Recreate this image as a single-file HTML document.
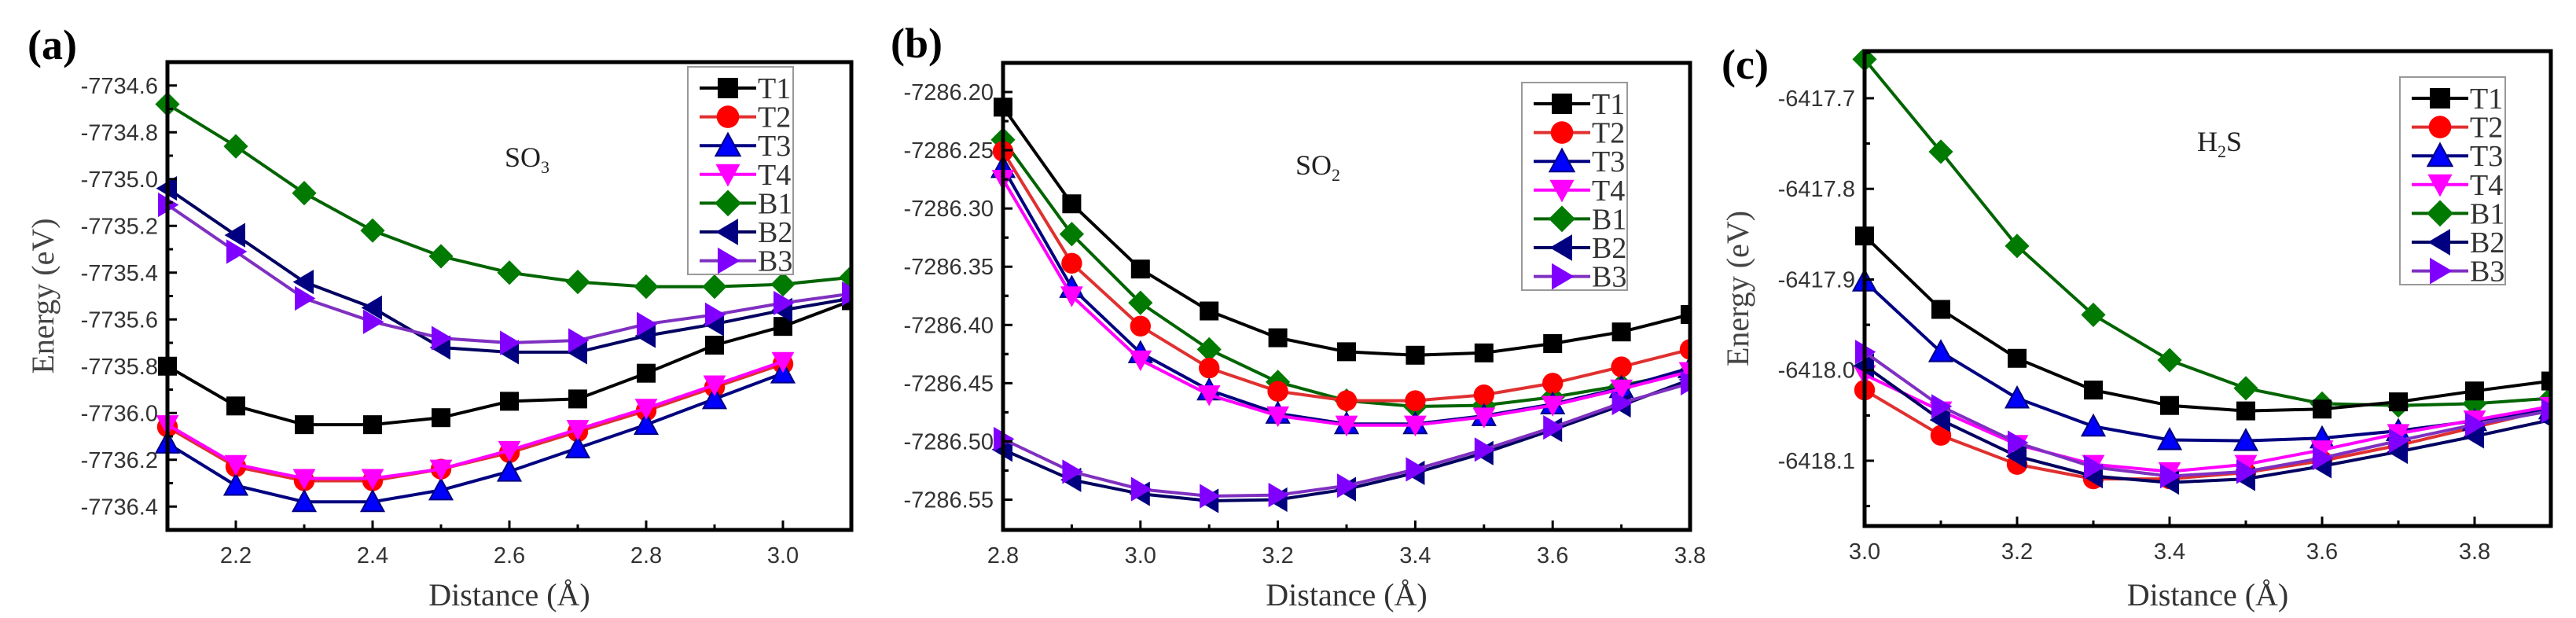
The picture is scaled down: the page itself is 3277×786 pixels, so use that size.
<!DOCTYPE html>
<html><head><meta charset="utf-8"><style>
html,body{margin:0;padding:0;background:#fff;}
svg{display:block;}
</style></head><body>
<svg id="fig" width="3277" height="786" viewBox="0 0 3277 786" xmlns="http://www.w3.org/2000/svg"></svg>
<script>
const seriesNames = ["T1","T2","T3","T4","B1","B2","B3"];
const fillColors = ["#000000","#ff0000","#0000ff","#ff00ff","#007a00","#000080","#8000ff"];
const lineColors = ["#000000","#e03030","#000080","#ff00ff","#006400","#000060","#7f30c0"];

const xA = [2.1,2.2,2.3,2.4,2.5,2.6,2.7,2.8,2.9,3.0,3.1];
const aT1 = [-7735.80,-7735.97,-7736.05,-7736.05,-7736.02,-7735.95,-7735.94,-7735.83,-7735.71,-7735.63,-7735.52];
const aT2 = [-7736.06,-7736.23,-7736.29,-7736.29,-7736.24,-7736.17,-7736.08,-7735.99,-7735.89,-7735.79];
const aT3 = [-7736.13,-7736.31,-7736.38,-7736.38,-7736.33,-7736.25,-7736.15,-7736.05,-7735.94,-7735.83];
const aT4 = [-7736.05,-7736.22,-7736.28,-7736.28,-7736.24,-7736.16,-7736.07,-7735.98,-7735.88,-7735.78];
const aB1 = [-7734.68,-7734.86,-7735.06,-7735.22,-7735.33,-7735.40,-7735.44,-7735.46,-7735.46,-7735.45,-7735.42];
const aB2 = [-7735.04,-7735.24,-7735.44,-7735.55,-7735.72,-7735.74,-7735.74,-7735.67,-7735.62,-7735.56,-7735.51];
const aB3 = [-7735.11,-7735.31,-7735.51,-7735.61,-7735.68,-7735.70,-7735.69,-7735.62,-7735.58,-7735.53,-7735.49];
const aXTicks = ["2.2","2.4","2.6","2.8","3.0"];
const aYTicks = ["-7734.6","-7734.8","-7735.0","-7735.2","-7735.4","-7735.6","-7735.8","-7736.0","-7736.2","-7736.4"];

const xB = [2.8,2.9,3.0,3.1,3.2,3.3,3.4,3.5,3.6,3.7,3.8];
const bT1 = [-7286.213,-7286.296,-7286.352,-7286.388,-7286.411,-7286.423,-7286.426,-7286.424,-7286.416,-7286.406,-7286.391];
const bT2 = [-7286.251,-7286.347,-7286.401,-7286.437,-7286.457,-7286.465,-7286.465,-7286.460,-7286.450,-7286.436,-7286.421];
const bT3 = [-7286.265,-7286.368,-7286.424,-7286.456,-7286.476,-7286.485,-7286.485,-7286.478,-7286.468,-7286.454,-7286.437];
const bT4 = [-7286.275,-7286.375,-7286.430,-7286.460,-7286.478,-7286.486,-7286.486,-7286.479,-7286.469,-7286.455,-7286.440];
const bB1 = [-7286.241,-7286.322,-7286.381,-7286.421,-7286.449,-7286.465,-7286.470,-7286.469,-7286.462,-7286.452,-7286.440];
const bB2 = [-7286.507,-7286.533,-7286.545,-7286.551,-7286.550,-7286.541,-7286.527,-7286.510,-7286.490,-7286.469,-7286.447];
const bB3 = [-7286.498,-7286.526,-7286.541,-7286.547,-7286.546,-7286.538,-7286.524,-7286.507,-7286.488,-7286.467,-7286.450];
const bXTicks = ["2.8","3.0","3.2","3.4","3.6","3.8"];
const bYTicks = ["-7286.20","-7286.25","-7286.30","-7286.35","-7286.40","-7286.45","-7286.50","-7286.55"];

const xC = [3.0,3.1,3.2,3.3,3.4,3.5,3.6,3.7,3.8,3.9];
const cT1 = [-6417.852,-6417.933,-6417.987,-6418.022,-6418.039,-6418.045,-6418.043,-6418.035,-6418.023,-6418.012];
const cT2 = [-6418.022,-6418.072,-6418.104,-6418.120,-6418.120,-6418.113,-6418.100,-6418.083,-6418.063,-6418.043];
const cT3 = [-6417.902,-6417.980,-6418.031,-6418.062,-6418.077,-6418.078,-6418.075,-6418.067,-6418.056,-6418.043];
const cT4 = [-6418.005,-6418.045,-6418.082,-6418.104,-6418.112,-6418.104,-6418.088,-6418.070,-6418.055,-6418.040];
const cB1 = [-6417.657,-6417.759,-6417.863,-6417.939,-6417.989,-6418.020,-6418.037,-6418.039,-6418.037,-6418.031];
const cB2 = [-6417.995,-6418.055,-6418.095,-6418.117,-6418.124,-6418.120,-6418.106,-6418.090,-6418.073,-6418.055];
const cB3 = [-6417.980,-6418.040,-6418.080,-6418.107,-6418.117,-6418.112,-6418.097,-6418.078,-6418.060,-6418.045];
const cXTicks = ["3.0","3.2","3.4","3.6","3.8"];
const cYTicks = ["-6417.7","-6417.8","-6417.9","-6418.0","-6418.1"];

const NS = "http://www.w3.org/2000/svg";
const svg = document.getElementById("fig");
function mk(tag, attrs, parent){
  const e = document.createElementNS(NS, tag);
  for (const k in attrs) e.setAttribute(k, attrs[k]);
  (parent||svg).appendChild(e);
  return e;
}
function marker(g, i, cx, cy, r){
  const f = fillColors[i], s = lineColors[i];
  let e;
  if (i===0) e = mk("rect",{x:cx-r,y:cy-r,width:2*r,height:2*r,fill:f},g);
  else if (i===1) e = mk("circle",{cx:cx,cy:cy,r:r*1.1,fill:f},g);
  else if (i===2) e = mk("polygon",{points:`${cx},${cy-r*1.2} ${cx-r*1.2},${cy+r} ${cx+r*1.2},${cy+r}`,fill:f,stroke:s,"stroke-width":2},g);
  else if (i===3) e = mk("polygon",{points:`${cx},${cy+r*1.2} ${cx-r*1.2},${cy-r} ${cx+r*1.2},${cy-r}`,fill:f},g);
  else if (i===4) e = mk("polygon",{points:`${cx},${cy-r*1.3} ${cx+r*1.3},${cy} ${cx},${cy+r*1.3} ${cx-r*1.3},${cy}`,fill:f},g);
  else if (i===5) e = mk("polygon",{points:`${cx-r*1.2},${cy} ${cx+r},${cy-r*1.3} ${cx+r},${cy+r*1.3}`,fill:f},g);
  else e = mk("polygon",{points:`${cx+r*1.2},${cy} ${cx-r},${cy-r*1.3} ${cx-r},${cy+r*1.3}`,fill:f},g);
  return e;
}

function panel(p){
  const g = mk("g",{});
  
  
  const X = v => p.L + (v - p.x0)/(p.x1 - p.x0)*(p.R - p.L);
  const Y = v => p.T + (p.y0 - v)/(p.y0 - p.y1)*(p.B - p.T);
  const order = [4,0,1,2,3,5,6];
  order.forEach(i=>{
    const ys = p.series[i];
    const sg = mk("g",{},g);
    
    
    const pts = ys.map((v,k)=>`${X(p.xs[k]).toFixed(1)},${Y(v).toFixed(1)}`).join(" ");
    mk("polyline",{points:pts,fill:"none",stroke:lineColors[i],"stroke-width":4,"stroke-linejoin":"round"},sg);
    ys.forEach((v,k)=>{
      const m = marker(sg,i,X(p.xs[k]),Y(v),12);
      
      
    });
  });
  mk("rect",{x:p.L-40,y:p.T-40,width:p.R-p.L+80,height:40-2.5,fill:"#fff"},g);
  mk("rect",{x:p.R+2.5,y:p.T-40,width:40,height:p.B-p.T+80,fill:"#fff"},g);
  const fr = mk("rect",{x:p.L,y:p.T,width:p.R-p.L,height:p.B-p.T,fill:"none",stroke:"#000","stroke-width":5},g);
  
  
  p.yt.forEach(t=>{
    const v = parseFloat(t), y = Y(v);
    mk("line",{x1:p.L,x2:p.L+12,y1:y,y2:y,stroke:"#000","stroke-width":3},g);
    const tx = mk("text",{x:p.L-12,y:y+10,"text-anchor":"end","font-family":"Liberation Sans, sans-serif","font-size":29,fill:"#333"},g);
    tx.textContent = t;
    
    
    const ym = Y(v - p.ystep/2);
    if (ym < p.B-2) mk("line",{x1:p.L,x2:p.L+7,y1:ym,y2:ym,stroke:"#000","stroke-width":3},g);
    const yp = Y(v + p.ystep/2);
    if (yp > p.T+2) mk("line",{x1:p.L,x2:p.L+7,y1:yp,y2:yp,stroke:"#000","stroke-width":3},g);
  });
  for (let k=0;k<=Math.round((p.x1-p.x0)/0.1);k++){
    const v = p.x0 + k*0.1, x = X(v);
    const major = p.xt.some(t=>Math.abs(parseFloat(t)-v)<1e-6);
    mk("line",{x1:x,x2:x,y1:p.B,y2:p.B-(major?12:7),stroke:"#000","stroke-width":3},g);
  }
  p.xt.forEach(t=>{
    const x = X(parseFloat(t));
    const tx = mk("text",{x:x,y:p.B+42,"text-anchor":"middle","font-family":"Liberation Sans, sans-serif","font-size":29,fill:"#333"},g);
    tx.textContent = t;
    
    
  });
  const xt = mk("text",{x:(p.L+p.R)/2,y:770,"text-anchor":"middle","font-family":"Liberation Serif, serif","font-size":40,fill:"#333"},g);
  xt.textContent = "Distance (\u00C5)";
  
  
  if (p.ytitleX){
    const yt = mk("text",{x:0,y:0,transform:`translate(${p.ytitleX},${(p.T+p.B)/2}) rotate(-90)`,"text-anchor":"middle","font-family":"Liberation Serif, serif","font-size":40,fill:"#444"},g);
    yt.textContent = "Energy (eV)";
    
    
  }
  const pl = mk("text",{x:p.labX,y:p.labY,"font-family":"Liberation Serif, serif","font-size":54,"font-weight":"bold",fill:"#000"},g);
  pl.textContent = "(" + p.id + ")";
  
  
  const ml = mk("text",{x:p.molX,y:p.molY,"font-family":"Liberation Serif, serif","font-size":36,fill:"#222"},g);
  
  
  p.mol.forEach(part=>{
    const ts = mk("tspan", part[1] ? {"font-size":22,dy:part[1]} : {dy:part[2]||0}, ml);
    ts.textContent = part[0];
  });
  const lg = mk("g",{},g);
  
  
  mk("rect",{x:p.legX,y:p.legY,width:134,height:264,fill:"#fff",stroke:"#999","stroke-width":2},lg);
  seriesNames.forEach((n,i)=>{
    const e = mk("g",{},lg);
    
    
    const cy = p.legY + 27 + i*36.6;
    mk("line",{x1:p.legX+15,x2:p.legX+87,y1:cy,y2:cy,stroke:lineColors[i],"stroke-width":4},e);
    marker(e,i,p.legX+51,cy,13);
    const t = mk("text",{x:p.legX+89,y:cy+13,"font-family":"Liberation Serif, serif","font-size":38,fill:"#333"},e);
    t.textContent = n;
  });
}

panel({id:"a",L:213,R:1083,T:79,B:674,x0:2.1,x1:3.1,y0:-7734.5,y1:-7736.5,ystep:0.2,
  xs:xA,series:[aT1,aT2,aT3,aT4,aB1,aB2,aB3],xt:aXTicks,yt:aYTicks,ytitleX:68,
  labX:35,labY:75,mol:[["SO",0],["3",8]],molX:642,molY:212,legX:875,legY:85});
panel({id:"b",L:1276,R:2150,T:80,B:674,x0:2.8,x1:3.8,y0:-7286.175,y1:-7286.576,ystep:0.05,
  xs:xB,series:[bT1,bT2,bT3,bT4,bB1,bB2,bB3],xt:bXTicks,yt:bYTicks,ytitleX:0,
  labX:1133,labY:73,mol:[["SO",0],["2",8]],molX:1648,molY:222,legX:1936,legY:105});
panel({id:"c",L:2372,R:3245,T:65,B:669,x0:3.0,x1:3.9,y0:-6417.648,y1:-6418.172,ystep:0.1,
  xs:xC,series:[cT1,cT2,cT3,cT4,cB1,cB2,cB3],xt:cXTicks,yt:cYTicks,ytitleX:2224,
  labX:2190,labY:100,mol:[["H",0],["2",8],["S",0,-8]],molX:2795,molY:192,legX:3053,legY:98});
</script>
</body></html>
